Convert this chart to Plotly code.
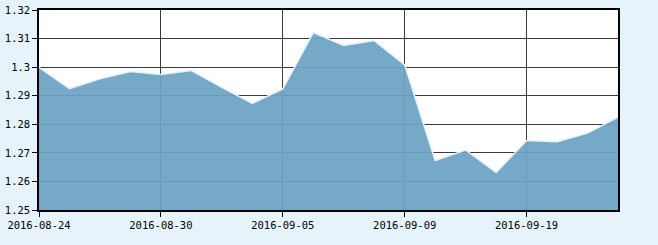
import plotly.graph_objects as go

dates = ["2016-08-24", "2016-08-25", "2016-08-26", "2016-08-29", "2016-08-30",
         "2016-08-31", "2016-09-01", "2016-09-02", "2016-09-05", "2016-09-06",
         "2016-09-07", "2016-09-08", "2016-09-09", "2016-09-12", "2016-09-13",
         "2016-09-14", "2016-09-19", "2016-09-20", "2016-09-21", "2016-09-22"]
values = [1.2999, 1.2925, 1.2959, 1.2985, 1.2974,
          1.2988, 1.2929, 1.2873, 1.2924, 1.3121,
          1.3076, 1.3093, 1.3008, 1.2673, 1.2710,
          1.2631, 1.2743, 1.2739, 1.2769, 1.2825]
x_ticks = ["2016-08-24", "2016-08-30", "2016-09-05", "2016-09-09", "2016-09-19"]
y_ticks = [1.25, 1.26, 1.27, 1.28, 1.29, 1.30, 1.31, 1.32]
y_ticktext = ["1.25", "1.26", "1.27", "1.28", "1.29", "1.3", "1.31", "1.32"]

fig = go.Figure(go.Scatter(
    x=dates, y=values, mode="lines", fill="tozeroy",
    fillcolor="rgba(108,163,196,0.93)",
    line=dict(color="#E4F2FB", width=1.5),
    hoverinfo="skip",
))

font = dict(family="DejaVu Sans Mono", size=10.5, color="black")
fig.update_layout(
    width=658, height=245,
    margin=dict(l=39, r=40, t=10, b=35, autoexpand=False),
    paper_bgcolor="#E6F3FB", plot_bgcolor="white",
    showlegend=False,
    font=font,
)
fig.update_xaxes(
    type="category", range=[0, len(dates) - 1], automargin=False,
    tickmode="array", tickvals=x_ticks, ticktext=x_ticks,
    showgrid=True, gridcolor="#3a3a3a", gridwidth=1,
    showline=True, linecolor="black", linewidth=1.5, mirror=True,
    ticks="outside", ticklen=5, tickcolor="black", tickwidth=1,
    tickfont=font, zeroline=False,
)
fig.update_yaxes(
    range=[1.25, 1.32], automargin=False,
    tickmode="array", tickvals=y_ticks, ticktext=y_ticktext,
    showgrid=True, gridcolor="#3a3a3a", gridwidth=1,
    showline=True, linecolor="black", linewidth=1.5, mirror=True,
    ticks="outside", ticklen=5, tickcolor="black", tickwidth=1,
    tickfont=font, zeroline=False,
)
fig.write_html("out.html")
